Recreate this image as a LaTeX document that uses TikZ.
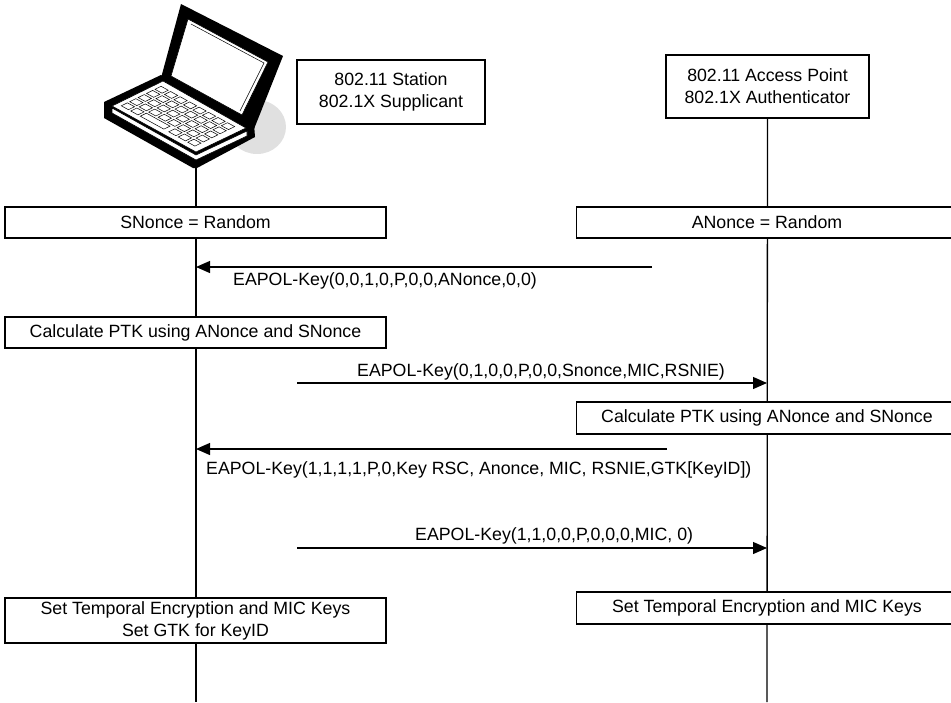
\documentclass[tikz,border=0pt]{standalone}
\usepackage{fontspec}
\setmainfont{Liberation Sans}
\usetikzlibrary{arrows.meta,backgrounds}

\begin{document}
\begin{tikzpicture}[x=1pt,y=-1pt,
  every node/.style={font=\fontsize{17.75}{22}\selectfont},
  box/.style={draw, line width=1.2pt, fill=white, inner sep=0pt, align=center},
  wide/.style={box, minimum width=381pt},
  life/.style={line width=1.3pt},
  msg/.style={line width=1.2pt, -{Triangle[length=14pt,width=12pt]}},
  lbl/.style={anchor=base west, inner sep=0pt},
  key/.style={line width=0.5pt, fill=white},
]
\useasboundingbox (0,0) rectangle (951,702);
\clip (0,0) rectangle (951,702);

% ---- laptop (station) ----
\fill[black!12] (257,127) ellipse [x radius=29, y radius=27];
% lid and screen
\fill[black] (161,78) -- (181,4) -- (283,56) -- (254,129) -- cycle;
\filldraw[fill=white, line width=0.6pt] (188,19) -- (268,62) -- (242,115) -- (171,76) -- cycle;
\draw[line width=0.5pt] (191,24) -- (264,63) -- (240,111);
% base
\fill[black] (104,102) -- (161,75) -- (254,124) -- (255,137) -- (197,168) -- (193,168) -- (104,118) -- cycle;
\filldraw[fill=white, line width=0.6pt] (112,106) -- (163,81) -- (246,128) -- (196,152) -- cycle;
\filldraw[fill=white, line width=0.6pt] (112,108) -- (196,155) -- (247,131) -- (247,136) -- (196,160) -- (112,113) -- cycle;
% keyboard on the top face of the base
\begin{scope}[cm={0.84,-0.46,0.51,0.25,(112,106)}, x=1pt, y=1pt]
  \foreach \j in {1,...,4}
    \foreach \i in {0,...,7}
      \filldraw[key] (5+\i*11.3, 10+\j*16.5) rectangle ++(8.5,12);
  \foreach \i in {0,1,5,6,7}
    \filldraw[key] (5+\i*11.3, 10) rectangle ++(8.5,12);
  \filldraw[key] (27.6,10) rectangle (55.7,22);
\end{scope}
\coordinate (pc) at (196,166);

% ---- headers ----
\node[box, minimum width=188pt, minimum height=64pt] (sta) at (391,92)
  {802.11 Station\\802.1X Supplicant};
\node[box, minimum width=203pt, minimum height=63pt] (ap) at (767.5,86.5)
  {802.11 Access Point\\802.1X Authenticator};
\coordinate (apb) at (767,702);
\coordinate (pcb) at (196,702);

% ---- actions ----
\node[wide, minimum height=31pt] (sn) at (195.5,222.5) {SNonce = Random};
\node[wide, minimum height=31pt] (an) at (767,222.5) {ANonce = Random};
\node[wide, minimum height=31pt] (cs) at (195.5,332.5) {Calculate PTK using ANonce and SNonce};
\node[wide, minimum height=32pt] (ca) at (767,418) {Calculate PTK using ANonce and SNonce};
\node[wide, minimum height=45pt] (ss) at (195.5,620.5) {Set Temporal Encryption and MIC Keys\\Set GTK for KeyID};
\node[wide, minimum height=32pt] (sa) at (767,608) {Set Temporal Encryption and MIC Keys};

% ---- lifelines ----
\begin{scope}[on background layer]
  \draw[life] (pc) -- (pcb);
  \draw[life] (ap.south) -- (apb);
\end{scope}

% ---- messages ----
\coordinate (m1) at (652,267);
\draw[msg] (m1) -- (m1 -| pc);
\node[lbl] (l1) at (233,285) {EAPOL-Key(0,0,1,0,P,0,0,ANonce,0,0)};

\coordinate (m2) at (297,383);
\draw[msg] (m2) -- (m2 -| apb);
\node[lbl] (l2) at (357,376) {EAPOL-Key(0,1,0,0,P,0,0,Snonce,MIC,RSNIE)};

\coordinate (m3) at (667,449);
\draw[msg] (m3) -- (m3 -| pc);
\node[lbl] (l3) at (206,474) {EAPOL-Key(1,1,1,1,P,0,Key RSC, Anonce, MIC, RSNIE,GTK[KeyID])};

\coordinate (m4) at (297,548);
\draw[msg] (m4) -- (m4 -| apb);
\node[lbl] (l4) at (415,540) {EAPOL-Key(1,1,0,0,P,0,0,0,MIC, 0)};
\end{tikzpicture}
\end{document}
